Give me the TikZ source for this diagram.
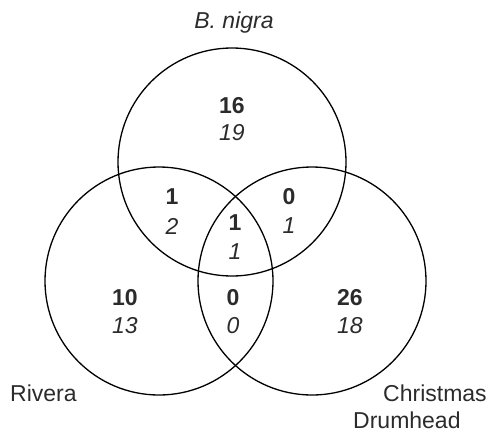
\documentclass[tikz,border=0pt]{standalone}
\usepackage{fontspec}
\setmainfont{Liberation Sans}
\definecolor{txt}{HTML}{2B2B2B}
\begin{document}
\begin{tikzpicture}[x=1pt,y=-1pt,
  ring/.style={draw=black,line width=1.3pt,circle,minimum size=228pt,inner sep=0pt},
  lbl/.style={text=txt,font=\fontsize{23}{27}\selectfont,inner sep=0pt,anchor=base west},
  num/.style={text=txt,font=\fontsize{23}{27}\selectfont\bfseries,inner sep=0pt},
  alt/.style={text=txt,font=\fontsize{23}{27}\selectfont\itshape,inner sep=0pt}]
\useasboundingbox (0,0) rectangle (493,432);
\node[ring] (top) at (232,162) {};
\node[ring] (left) at (159,281) {};
\node[ring] (right) at (312,281) {};
\node[lbl,font=\fontsize{23}{27}\selectfont\itshape,anchor=base] (tname) at (234,28) {B. nigra};
\node[lbl] (lname) at (10,401) {Rivera};
\node[lbl] (rname1) at (383,401) {Christmas};
\node[lbl] (rname2) at (353,428) {Drumhead};
\node[num] (a1) at (232,106) {16};
\node[alt] (a2) at (232,133) {19};
\node[num] (b1) at (172,197) {1};
\node[alt] (b2) at (172,226) {2};
\node[num] (c1) at (289,197) {0};
\node[alt] (c2) at (289,226) {1};
\node[num] (d1) at (235,223) {1};
\node[alt] (d2) at (235,252) {1};
\node[num] (e1) at (125,298) {10};
\node[alt] (e2) at (125,326) {13};
\node[num] (f1) at (233,298) {0};
\node[alt] (f2) at (233,326) {0};
\node[num] (g1) at (350,298) {26};
\node[alt] (g2) at (350,326) {18};
\end{tikzpicture}
\end{document}
